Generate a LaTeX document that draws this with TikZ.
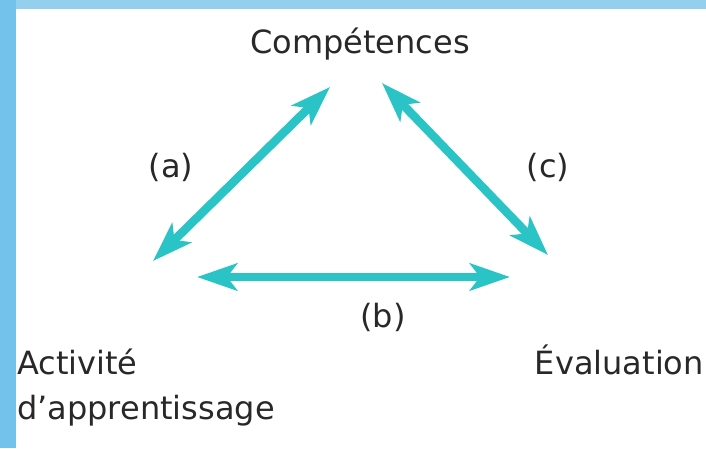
\documentclass[tikz,border=0pt]{standalone}
\usepackage{fontspec}
\setmainfont{DejaVu Sans}
\usetikzlibrary{arrows.meta}
\definecolor{teal2}{RGB}{42,196,198}
\definecolor{frameleft}{RGB}{114,194,236}
\definecolor{frametop}{RGB}{148,208,238}
\definecolor{txt}{RGB}{40,40,40}
\tikzset{
  lbl/.style={inner sep=0pt, text=txt, font=\fontsize{32}{45}\selectfont},
  link/.style={teal2, line width=8.5pt,
    {Stealth[length=40pt,width=27pt,inset=10pt]}-{Stealth[length=40pt,width=27pt,inset=10pt]}}
}
\begin{document}
\begin{tikzpicture}[x=1pt,y=-1pt]
\useasboundingbox (0,0) rectangle (706,448);
\fill[frametop] (0,0) rectangle (706,9);
\fill[frameleft] (0,0) rectangle (16,448);
\fill[white] (16,9) rectangle (706,448);
% text nodes
\node[lbl, anchor=base] (comp) at (360,53) {Compétences};
\node[lbl, anchor=base west, align=left] (act) at (17,419) {Activité\\d’apprentissage};
\node[lbl, anchor=base east] (eval) at (704,374) {Évaluation};
\node[lbl, anchor=base] (la) at (171,177) {(a)};
\node[lbl, anchor=base] (lb) at (383,327) {(b)};
\node[lbl, anchor=base] (lc) at (548,177) {(c)};
% arrow ends
\coordinate (a1) at (153,261);
\coordinate (a2) at (330,87);
\coordinate (b1) at (197,277);
\coordinate (b2) at (510,277);
\coordinate (c1) at (382,83);
\coordinate (c2) at (548,255);
\draw[link] (a1) -- (a2);
\draw[link] (b1) -- (b2);
\draw[link] (c1) -- (c2);
\end{tikzpicture}
\end{document}
